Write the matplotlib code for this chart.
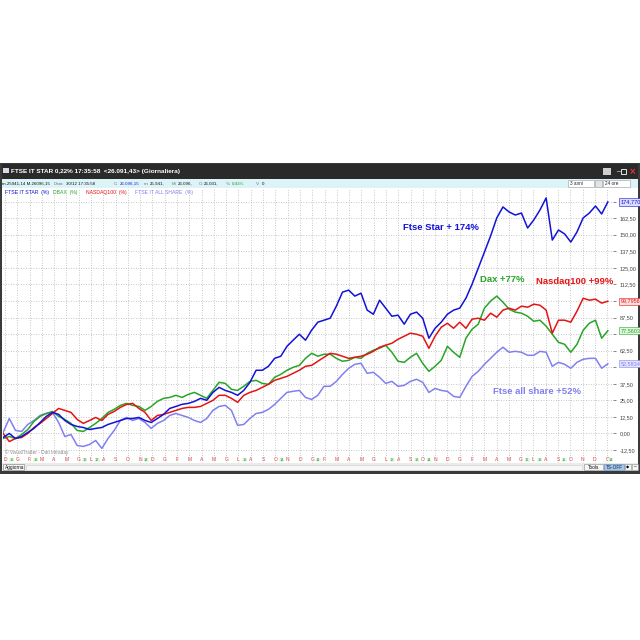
import numpy as np
import matplotlib
matplotlib.use('Agg')
from matplotlib import pyplot as plt
from matplotlib.patches import Rectangle
from matplotlib.transforms import blended_transform_factory

plt.rcParams['font.family'] = ['Liberation Sans', 'DejaVu Sans']

# % change since start, sampled every half month (Dec .. Dec, 4 years)
star = [-3.0, 0.0, -3.8, -2.3, 0.8, 3.8, 8.3, 12.9, 15.9, 14.4,
        9.8, 6.8, 5.3, 4.5, 3.0, 3.8, 4.5, 6.8, 8.3, 9.8,
        11.3, 11.3, 12.1, 9.8, 8.3, 11.3, 14.4, 18.9, 20.4, 22.0,
        22.7, 24.2, 26.5, 25.0, 31.0, 34.8, 32.5, 31.0, 28.8, 32.5,
        38.6, 47.7, 47.7, 50.7, 56.7, 58.3, 65.8, 70.4, 74.9, 70.4,
        78.0, 84.0, 85.5, 87.0, 96.1, 106.7, 108.2, 103.7, 105.9, 93.1,
        90.0, 100.6, 94.6, 88.5, 89.3, 82.5, 90.0, 91.6, 87.0, 71.9,
        79.4, 84.0, 90.0, 93.1, 94.6, 102.1, 112.7, 124.8, 136.9, 149.1,
        162.7, 171.0, 167.2, 164.9, 166.4, 155.1, 161.2, 168.7, 177.8, 146.0,
        153.6, 150.6, 144.5, 152.1, 162.7, 166.4, 171.7, 165.7, 174.77]
nasdaq = [0.0, -6.1, -3.8, -3.0, 0.0, 4.5, 7.6, 11.3, 15.1, 18.9,
          17.4, 15.9, 10.6, 7.6, 9.8, 12.1, 9.8, 14.4, 16.6, 19.7,
          21.9, 22.7, 18.9, 15.9, 9.8, 13.6, 14.4, 15.9, 17.4, 18.9,
          19.7, 19.7, 20.4, 22.7, 25.0, 28.8, 28.8, 26.5, 23.5, 28.8,
          31.0, 32.5, 34.8, 37.1, 40.1, 41.6, 43.1, 45.4, 47.7, 50.7,
          51.4, 54.5, 57.5, 60.5, 59.8, 58.3, 56.7, 57.5, 58.3, 59.8,
          62.0, 65.1, 66.6, 68.1, 71.1, 73.4, 75.7, 74.9, 73.4, 64.3,
          73.4, 80.2, 83.2, 79.4, 84.0, 79.4, 86.3, 87.0, 85.5, 90.8,
          87.8, 93.1, 94.6, 93.1, 96.1, 95.3, 97.6, 96.8, 93.1, 75.7,
          85.5, 85.5, 84.0, 92.3, 102.1, 100.6, 101.4, 98.4, 99.80]
dax = [-3.8, -2.3, -3.8, -0.8, 3.0, 9.1, 12.9, 15.1, 16.6, 12.9,
       10.6, 7.6, 2.3, 1.5, 4.5, 7.6, 11.3, 15.9, 18.2, 21.2,
       22.7, 21.2, 20.4, 17.4, 20.4, 24.2, 26.5, 27.2, 28.8, 27.2,
       29.5, 31.0, 28.8, 26.5, 32.5, 38.6, 37.8, 33.3, 32.5, 35.6,
       39.3, 40.1, 37.8, 37.1, 42.4, 44.6, 47.7, 49.9, 51.4, 56.7,
       60.5, 58.3, 59.8, 59.8, 56.7, 54.5, 55.2, 57.5, 56.7, 60.5,
       62.8, 64.3, 66.6, 61.3, 54.5, 53.7, 57.5, 60.5, 52.9, 46.9,
       50.7, 55.2, 65.8, 61.3, 57.5, 71.9, 78.7, 82.5, 94.6, 99.9,
       103.7, 99.1, 93.8, 91.6, 90.8, 88.5, 84.7, 85.5, 81.0, 74.9,
       68.8, 67.3, 61.3, 67.3, 77.9, 83.2, 85.5, 71.9, 77.56]
allshare = [0.8, 11.3, 2.3, 1.5, 6.8, 9.8, 13.6, 15.1, 15.9, 8.3,
            -2.3, -0.8, -9.1, -9.8, -8.3, -5.3, -11.3, -3.8, 2.3, 9.8,
            12.1, 9.8, 11.3, 8.3, 3.8, 7.6, 9.8, 13.6, 15.1, 13.6,
            12.1, 9.8, 8.3, 11.3, 17.4, 20.4, 21.2, 17.4, 6.1, 6.8,
            11.3, 15.1, 15.9, 18.2, 21.9, 26.5, 31.0, 31.8, 32.5, 27.2,
            25.7, 28.8, 35.6, 35.6, 39.3, 44.6, 49.2, 52.2, 53.0, 45.4,
            46.2, 42.4, 37.8, 39.3, 35.6, 36.3, 39.3, 40.9, 38.6, 31.0,
            34.0, 32.5, 31.8, 28.0, 27.2, 35.6, 43.1, 46.9, 52.2, 56.7,
            61.3, 65.1, 61.3, 62.0, 61.3, 59.0, 59.0, 62.0, 61.3, 50.7,
            53.7, 52.2, 49.2, 53.7, 56.0, 56.7, 56.7, 49.2, 52.58]

months = ['D'] + ['G', 'F', 'M', 'A', 'M', 'G', 'L', 'A', 'S', 'O', 'N', 'D'] * 4 + ['G']
expiry_pos = [0.55, 2.5, 6.5, 7.5, 11.5, 19.5, 22.5, 25.5, 31.5, 33.5, 34.5, 42.5, 43.5, 45.5, 49.3]
expiry_txt = ['13', '13', '13', '13', '14', '13', '14', '14', '13', '13', '14', '13', '13', '11', '14']
levels = np.arange(-12.5, 187.5, 12.5)
boxed = {175.0: '174,770', 100.0: '99,7956', 75.0: '77,5603', 50.0: '52,5834'}

c_star, c_dax, c_nas, c_all = '#1212d8', '#27a527', '#e41414', '#8080f0'

fig = plt.figure(figsize=(6.4, 6.4), dpi=100)

# window chrome, drawn in pixel coordinates
bg = fig.add_axes([0, 0, 1, 1], zorder=0)
bg.set_xlim(0, 640)
bg.set_ylim(640, 0)
bg.axis('off')
bg.add_patch(Rectangle((0, 163), 640, 311, fc='#3a3a3a', ec='none'))
bg.add_patch(Rectangle((2, 164), 636, 15, fc='#2a2a2a', ec='none'))
bg.add_patch(Rectangle((2, 179), 636, 9, fc='#dcf4f8', ec='none'))
bg.add_patch(Rectangle((2, 188), 636, 275, fc='white', ec='none'))
bg.add_patch(Rectangle((2, 463), 636, 8, fc='#ebebeb', ec='none'))
bg.add_patch(Rectangle((3, 168), 6, 5, fc='#d8d8e8', ec='none'))
bg.text(11, 172, 'FTSE IT STAR 0,22% 17:35:58  <26.091,43> (Giornaliera)',
        color='white', fontsize=4.6, fontweight='bold', va='center')
bg.add_patch(Rectangle((603, 168), 8, 7, fc='#cfcfcf', ec='none'))
bg.text(618, 172, '_', color='white', fontsize=5, ha='center', va='bottom')
bg.add_patch(Rectangle((621, 169), 5, 5, fc='none', ec='white', lw=0.6))
bg.text(632, 172, '×', color='#e03030', fontsize=7, fontweight='bold', ha='center', va='center')

info = [(2, 'm.25941,14 M.26096,15', '#111111'), (54, 'Data:', '#777777'),
        (66, '30/12 17:35:58', '#111111'), (114, 'C:', '#777777'),
        (120, '26.096,15', '#1a1ad0'), (144, 'm:', '#777777'),
        (150, '25.941,', '#111111'), (172, 'M:', '#777777'),
        (178, '26.096,', '#111111'), (199, 'O:', '#777777'),
        (204, '26.031,', '#111111'), (226, '%:', '#777777'),
        (232, '0,43%', '#1c9a1c'), (256, 'V:', '#777777'), (262, '0', '#111111')]
for x0, s, c in info:
    bg.text(x0, 183.8, s, color=c, fontsize=3.2, va='center')
bg.add_patch(Rectangle((568, 180), 26, 7, fc='white', ec='#9a9a9a', lw=0.4))
bg.text(570, 183.6, '3 anni', fontsize=3.3, va='center', color='#222222')
bg.add_patch(Rectangle((595, 180), 7, 7, fc='#e4e4e4', ec='#9a9a9a', lw=0.4))
bg.add_patch(Rectangle((603, 180), 27, 7, fc='white', ec='#9a9a9a', lw=0.4))
bg.text(605, 183.6, '24 ore', fontsize=3.3, va='center', color='#222222')

bg.add_patch(Rectangle((3, 464), 21, 6, fc='#f6f6f6', ec='#777777', lw=0.4))
bg.text(4.5, 467.2, 'Aggiorna', fontsize=3.4, va='center', color='#111111')
bg.add_patch(Rectangle((26, 464.5), 556, 5, fc='#f7f7f7', ec='#cccccc', lw=0.4))
bg.add_patch(Rectangle((584, 464), 19, 6, fc='#f6f6f6', ec='#888888', lw=0.4))
bg.text(593.5, 467.2, 'Tools', fontsize=3.4, ha='center', va='center')
bg.add_patch(Rectangle((604, 464), 20, 6, fc='#a8c8ea', ec='#5a7fb0', lw=0.4))
bg.text(614, 467.2, 'TS-OFF', fontsize=3.4, ha='center', va='center', color='#10204a')
bg.add_patch(Rectangle((625, 464), 6, 6, fc='#f6f6f6', ec='#888888', lw=0.4))
bg.add_patch(Rectangle((632, 464), 6, 6, fc='#f6f6f6', ec='#888888', lw=0.4))
bg.text(628, 467.2, '◆', fontsize=3, ha='center', va='center')
bg.text(635, 467.2, '–', fontsize=3.5, ha='center', va='center')

# price chart
ax = fig.add_axes([3 / 640, 1 - 463 / 640, 610 / 640, 275 / 640], zorder=1)
ax.set_facecolor('none')
n = len(star)
t = np.linspace(-0.15, 49.05, n)
ax.plot(t, allshare, color=c_all, lw=1.1)
ax.plot(t, dax, color=c_dax, lw=1.1)
ax.plot(t, nasdaq, color=c_nas, lw=1.1)
ax.plot(t, star, color=c_star, lw=1.1)

ax.set_xlim(-0.16, 49.47)
ax.set_ylim(-22.3, 185.3)
for s in ax.spines.values():
    s.set_visible(False)
ax.set_xticks(np.arange(len(months)))
ax.set_xticklabels([])
ax.tick_params(axis='x', length=0)
ax.yaxis.tick_right()
ax.set_yticks(levels)
ax.set_yticklabels(['' if v in boxed else ('%.2f' % v).replace('.', ',') for v in levels])
ax.tick_params(axis='y', length=2.5, width=0.5, color='#555555', labelsize=4,
               labelcolor='#444444', pad=2)
ax.grid(True, color='#b4b4b4', lw=0.6, ls=(0, (1, 2)))

tr_y = blended_transform_factory(ax.transAxes, ax.transData)
box_style = {175.0: (c_star, '#dcdcff'), 100.0: (c_nas, '#ffe0e0'),
             75.0: (c_dax, '#e0f6e0'), 50.0: (c_all, '#e4e4ff')}
last = {175.0: star[-1], 100.0: nasdaq[-1], 75.0: dax[-1], 50.0: allshare[-1]}
for lv, lab in boxed.items():
    col, fill = box_style[lv]
    ax.text(1.012, last[lv], lab, transform=tr_y, fontsize=4, color=col, va='center',
            ha='left', clip_on=False,
            bbox=dict(boxstyle='square,pad=0.2', fc=fill, ec=col, lw=0.4))

tr_x = blended_transform_factory(ax.transData, ax.transAxes)
for i, m in enumerate(months):
    ax.text(i, 0.012, m, transform=tr_x, fontsize=3.6, color='#e04848',
            ha='center', va='center')
for p, s in zip(expiry_pos, expiry_txt):
    ax.text(p, 0.012, s, transform=tr_x, fontsize=2.8, color='#22a022',
            ha='center', va='center',
            bbox=dict(boxstyle='square,pad=0.05', fc='#eaf8ea', ec='none'))

ax.text(0.004, 0.985, 'FTSE IT STAR  (%)', transform=ax.transAxes, fontsize=3.7,
        color=c_star, va='center')
ax.text(0.082, 0.985, 'DBAX  (%)', transform=ax.transAxes, fontsize=3.7,
        color=c_dax, va='center')
ax.text(0.136, 0.985, 'NASDAQ100  (%)', transform=ax.transAxes, fontsize=3.7,
        color=c_nas, va='center')
ax.text(0.217, 0.985, 'FTSE IT ALL SHARE  (%)', transform=ax.transAxes, fontsize=3.7,
        color=c_all, va='center')
ax.text(0.004, 0.04, '© VisualTrader - Dati Intraday', transform=ax.transAxes,
        fontsize=3.4, color='#8a8a8a', va='center')

ax.text(32.4, 155.2, 'Ftse Star + 174%', color=c_star, fontsize=6.8,
        fontweight='bold', va='center')
ax.text(38.65, 116.6, 'Dax +77%', color=c_dax, fontsize=6.8,
        fontweight='bold', va='center')
ax.text(43.2, 114.4, 'Nasdaq100 +99%', color=c_nas, fontsize=6.8,
        fontweight='bold', va='center')
ax.text(39.7, 31.3, 'Ftse all share +52%', color=c_all, fontsize=6.8,
        fontweight='bold', va='center')

fig.savefig('out.png', dpi=100)
